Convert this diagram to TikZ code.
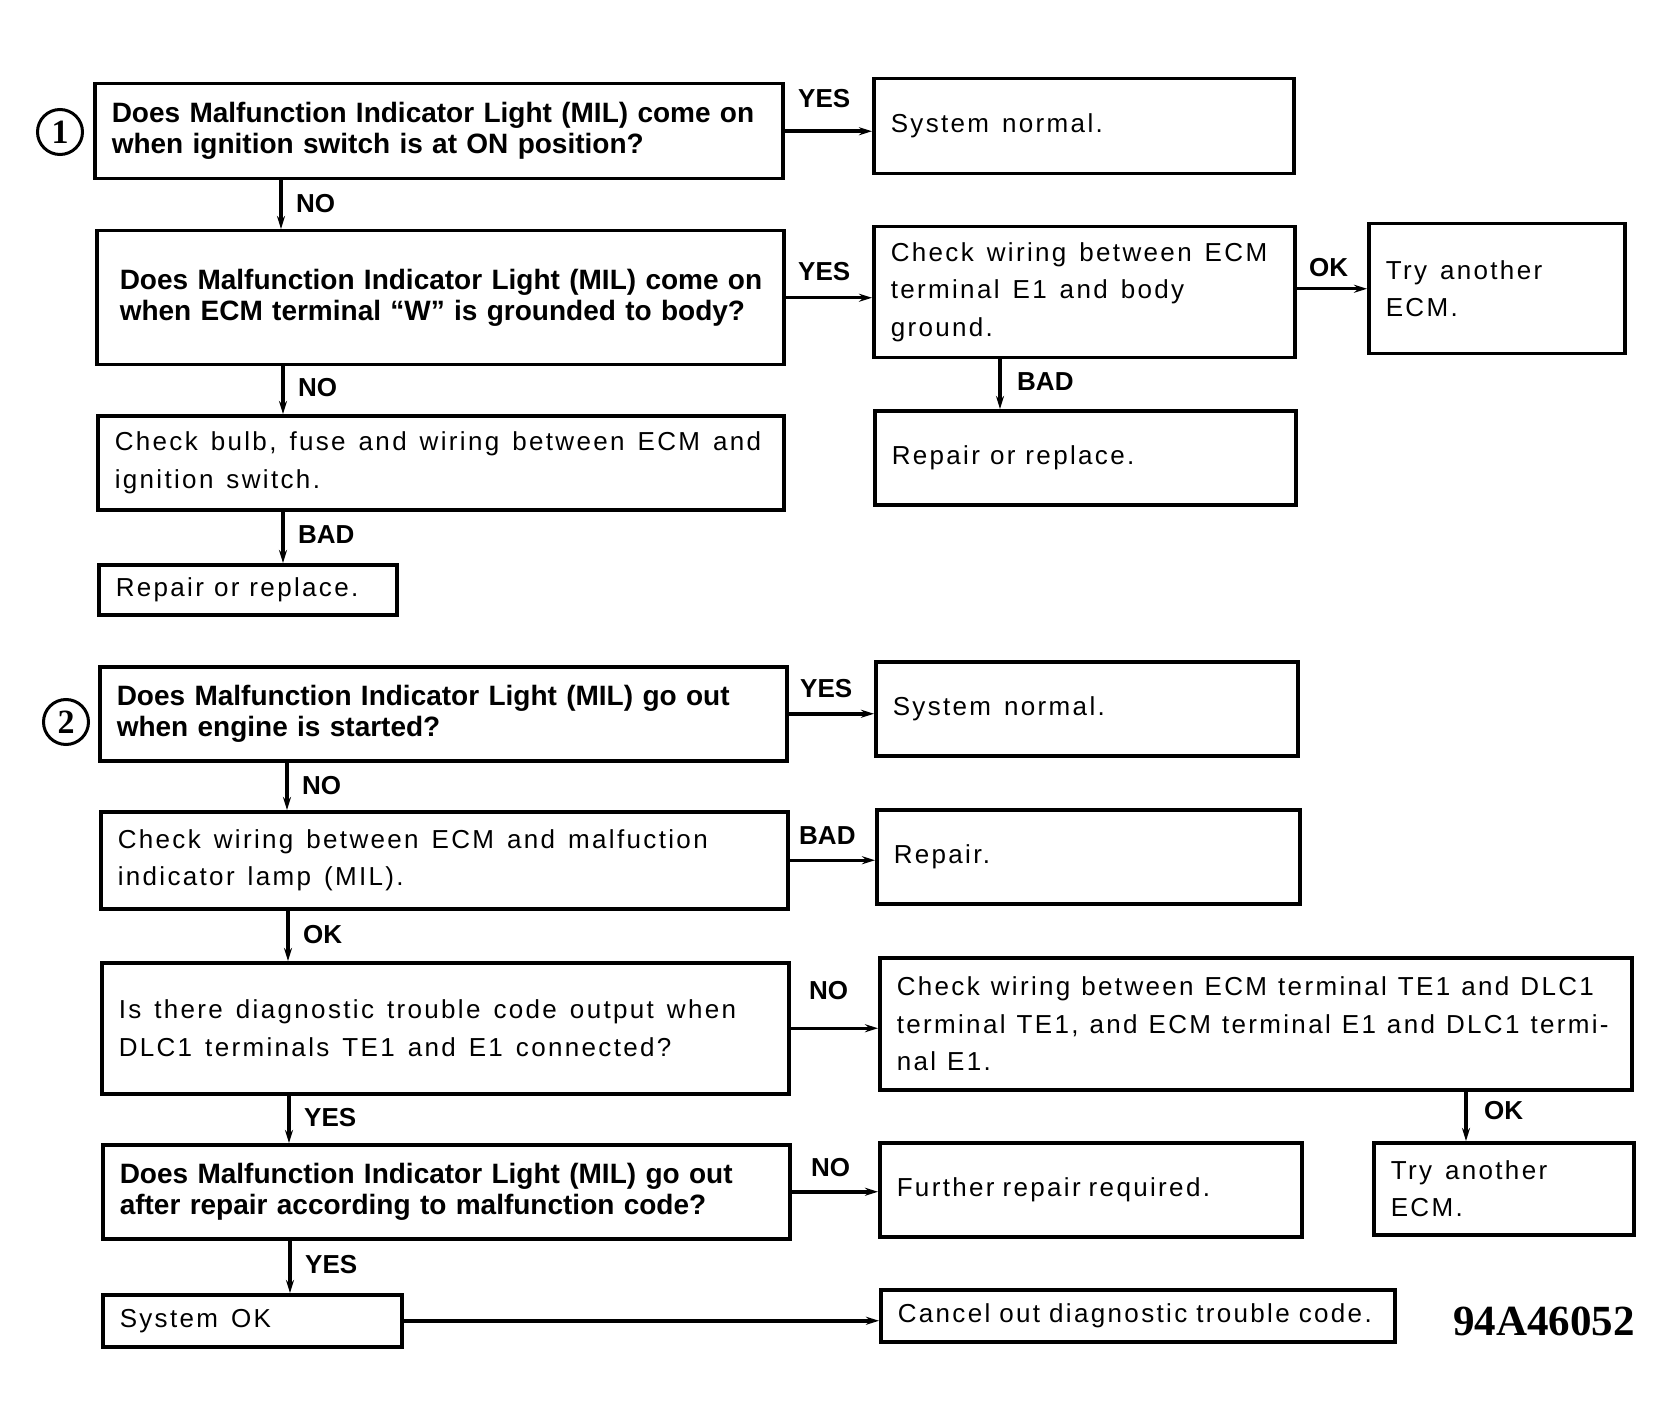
\documentclass[tikz,border=0pt]{standalone}
\usepackage{fontspec}
\setmainfont{Liberation Sans}
\newfontfamily\rgf[LetterSpace=9]{Liberation Sans}
\newfontfamily\serf{Liberation Serif}
\usetikzlibrary{arrows.meta,calc}
\newcommand\widesp[1]{\spaceskip=#1pt plus 2pt minus 1pt\relax}
\begin{document}
\begin{tikzpicture}[x=1pt,y=-1pt,
  box/.style={draw, line width=3.5pt, rectangle, anchor=north west, inner xsep=17pt, inner ysep=0pt, align=left},
  rg/.style={font=\rgf\fontsize{26}{37.5}\selectfont, execute at begin node={\widesp{13}}},
  wsp/.style={execute at begin node={\widesp{#1}}},
  qb/.style={font=\bfseries\fontsize{28}{31}\selectfont},
  lab/.style={font=\bfseries\fontsize{26}{26}\selectfont, inner sep=0pt, anchor=west},
  num/.style={draw, circle, line width=3pt, minimum size=45pt, inner sep=0pt, font=\serf\bfseries\fontsize{34}{34}\selectfont},
  arr/.style={line width=3.5pt, -{Stealth[length=13pt,width=8pt]}}]
\fill[white] (0,0) rectangle (1674,1423);
\useasboundingbox (0,0) rectangle (1674,1423);

% ---------- part 1 ----------
\node[num] (n1) at (60,132) {1};
\node[box, qb, text width=654pt, minimum height=95pt] (Q1) at (93,82)
  {\mbox{Does Malfunction Indicator Light (MIL) come on}\\\mbox{when ignition switch is at ON position?}};
\node[box, rg, text width=386pt, minimum height=95pt] (SN1) at (872,77) {\mbox{System normal.}};
\node[box, qb, inner xsep=23pt, text width=641pt, minimum height=134pt] (Q2) at (95,229)
  {\mbox{Does Malfunction Indicator Light (MIL) come on}\\\mbox{when ECM terminal \textquotedblleft W\textquotedblright{} is grounded to body?}};
\node[box, rg, text width=387pt, minimum height=131pt] (CW1) at (872,225)
  {\mbox{Check wiring between ECM}\\\mbox{terminal E1 and body}\\\mbox{ground.}};
\node[box, rg, text width=222pt, minimum height=130pt] (TA1) at (1367,222)
  {\mbox{Try another}\\\mbox{ECM.}};
\node[box, rg, text width=652pt, minimum height=94pt] (C1) at (96,414)
  {\mbox{Check bulb, fuse and wiring between ECM and}\\\mbox{ignition switch.}};
\node[box, rg, wsp=10, text width=387pt, minimum height=94pt] (RR1) at (873,409) {\mbox{Repair or replace.}};
\node[box, rg, wsp=10, text width=264pt, minimum height=50pt] (R1) at (97,563) {\mbox{Repair or replace.}};

\coordinate (v1) at (281,0);
\coordinate (v2) at (283,0);
\coordinate (v3) at (1000,0);
\draw[arr] (Q1.south -| v1) -- (Q2.north -| v1);
\draw[arr] (Q2.south -| v2) -- (C1.north -| v2);
\draw[arr] (C1.south -| v2) -- (R1.north -| v2);
\draw[arr] (CW1.south -| v3) -- (RR1.north -| v3);
\draw[arr] (Q1.east) -- (Q1.east -| SN1.west);
\draw[arr] (Q2.east) -- (Q2.east -| CW1.west);
\draw[arr] (CW1.east |- TA1.west) -- (TA1.west);

\node[lab] (l1) at (798,99) {YES};
\node[lab] (l2) at (296,204) {NO};
\node[lab] (l3) at (798,272) {YES};
\node[lab] (l4) at (1309,268) {OK};
\node[lab] (l5) at (298,388) {NO};
\node[lab] (l6) at (1017,382) {BAD};
\node[lab] (l7) at (298,535) {BAD};

% ---------- part 2 ----------
\node[num] (n2) at (66,722) {2};
\node[box, qb, text width=653pt, minimum height=94pt] (Q3) at (98,665)
  {\mbox{Does Malfunction Indicator Light (MIL) go out}\\\mbox{when engine is started?}};
\node[box, rg, text width=388pt, minimum height=94pt] (SN2) at (874,660) {\mbox{System normal.}};
\node[box, rg, text width=653pt, minimum height=97pt] (C2) at (99,810)
  {\mbox{Check wiring between ECM and malfuction}\\\mbox{indicator lamp (MIL).}};
\node[box, rg, text width=389pt, minimum height=94pt] (REP) at (875,808) {\mbox{Repair.}};
\node[box, rg, text width=653pt, minimum height=131pt] (Q4) at (100,961)
  {\mbox{Is there diagnostic trouble code output when}\\\mbox{DLC1 terminals TE1 and E1 connected?}};
\node[box, rg, wsp=11, text width=718pt, minimum height=132pt] (CW2) at (878,956)
  {\mbox{Check wiring between ECM terminal TE1 and DLC1}\\\mbox{terminal TE1, and ECM terminal E1 and DLC1 termi-}\\\mbox{nal E1.}};
\node[box, qb, text width=653pt, minimum height=94pt] (Q5) at (101,1143)
  {\mbox{Does Malfunction Indicator Light (MIL) go out}\\\mbox{after repair according to malfunction code?}};
\node[box, rg, wsp=8, text width=388pt, minimum height=94pt] (FRR) at (878,1141) {\mbox{Further repair required.}};
\node[box, rg, text width=226pt, minimum height=92pt] (TA2) at (1372,1141)
  {\mbox{Try another}\\\mbox{ECM.}};
\node[box, rg, text width=265pt, minimum height=52pt] (SOK) at (101,1293) {\mbox{System OK}};
\node[box, rg, wsp=9, text width=480pt, minimum height=52pt] (CAN) at (879,1288) {\mbox{Cancel out diagnostic trouble code.}};
\node[font=\serf\bfseries\fontsize{43}{43}\selectfont, inner sep=0pt, anchor=west] (code) at (1453,1321) {94A46052};

\coordinate (w1) at (287,0);
\coordinate (w2) at (288,0);
\coordinate (w3) at (289,0);
\coordinate (w4) at (290,0);
\coordinate (w5) at (1466,0);
\draw[arr] (Q3.south -| w1) -- (C2.north -| w1);
\draw[arr] (C2.south -| w2) -- (Q4.north -| w2);
\draw[arr] (Q4.south -| w3) -- (Q5.north -| w3);
\draw[arr] (Q5.south -| w4) -- (SOK.north -| w4);
\draw[arr] (CW2.south -| w5) -- (TA2.north -| w5);
\draw[arr] (Q3.east) -- (Q3.east -| SN2.west);
\draw[arr] (C2.east) -- (C2.east -| REP.west);
\draw[arr] (Q4.east) -- (Q4.east -| CW2.west);
\draw[arr] (Q5.east) -- (Q5.east -| FRR.west);
\draw[arr] (SOK.east) -- (SOK.east -| CAN.west);

\node[lab] (m1) at (800,689) {YES};
\node[lab] (m2) at (302,786) {NO};
\node[lab] (m3) at (799,836) {BAD};
\node[lab] (m4) at (303,935) {OK};
\node[lab] (m5) at (809,991) {NO};
\node[lab] (m6) at (304,1118) {YES};
\node[lab] (m7) at (1484,1111) {OK};
\node[lab] (m8) at (811,1168) {NO};
\node[lab] (m9) at (305,1265) {YES};
\end{tikzpicture}
\end{document}
